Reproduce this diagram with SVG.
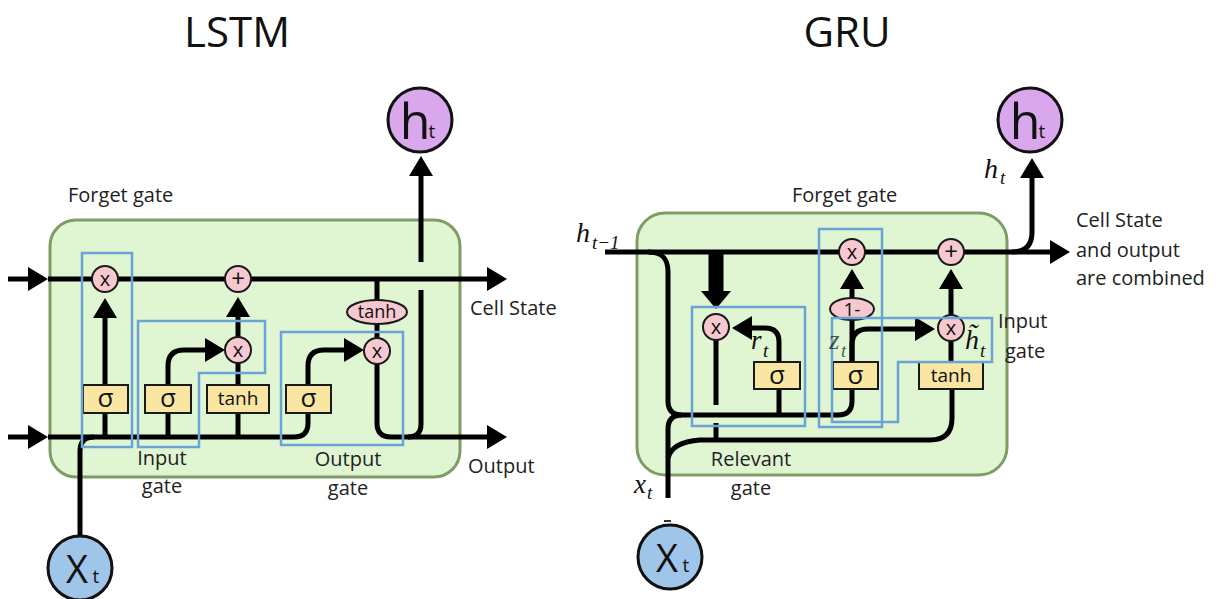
<svg xmlns="http://www.w3.org/2000/svg" width="1221" height="599" viewBox="0 0 1221 599">
<defs>
<style>
.cell{fill:#e0f5d2;stroke:#7f9c66;stroke-width:3}
.w{fill:none;stroke:#000;stroke-width:5;stroke-linecap:butt;stroke-linejoin:round}
.op{fill:#f7c8d0;stroke:#1a1a1a;stroke-width:2}
.gate{fill:#f9e6a2;stroke:#1a1a1a;stroke-width:2}
.frame{fill:none;stroke:#6aa4d6;stroke-width:2.5}
.lbl{font-family:"Open Sans","Noto Sans",sans-serif;font-size:20px;fill:#222}
.ttl{font-family:"Open Sans","Noto Sans",sans-serif;font-size:42px;fill:#111}
.opt{font-family:"Open Sans","Noto Sans",sans-serif;font-size:20px;fill:#111;text-anchor:middle}
.opp{font-family:"Open Sans","Noto Sans",sans-serif;font-size:24px;fill:#111;text-anchor:middle}
.gt{font-family:"Open Sans","Noto Sans",sans-serif;fill:#111;text-anchor:middle}
.math{font-family:"Liberation Serif","DejaVu Serif",serif;font-style:italic;fill:#111}
</style>
<marker id="ah" viewBox="0 0 20 24" refX="0" refY="12" markerWidth="20" markerHeight="24" markerUnits="userSpaceOnUse" orient="auto">
<path d="M0,0 L20,12 L0,24 z" fill="#000"/>
</marker>
</defs>
<rect width="1221" height="599" fill="#fff"/>

<!-- titles -->
<text class="ttl" x="237" y="47" text-anchor="middle">LSTM</text>
<text class="ttl" x="847" y="47" text-anchor="middle">GRU</text>

<!-- cells -->
<g id="lstm-cell"><rect class="cell" x="50" y="220" width="410" height="257" rx="26"/></g>
<g id="gru-cell"><rect class="cell" x="637" y="213" width="370" height="262" rx="28"/></g>

<!-- connectors -->
<g id="connectors">
 <!-- LSTM -->
 <path class="w" d="M8,279 H28" marker-end="url(#ah)"/>
 <path class="w" d="M48,279 H487" marker-end="url(#ah)"/>
 <path class="w" d="M8,437 H28" marker-end="url(#ah)"/>
 <path class="w" d="M48,437 H294 Q308,437 308,423 V413"/>
 <path class="w" d="M80,536 V451 Q80,437 94,437"/>
 <path class="w" d="M105,437 V413 M168,437 V413 M238,437 V413"/>
 <path class="w" d="M105,385 V318" marker-end="url(#ah)"/>
 <path class="w" d="M168,385 V366 Q168,350 184,350 H205" marker-end="url(#ah)"/>
 <path class="w" d="M238,385 V363"/>
 <path class="w" d="M238,337 V317" marker-end="url(#ah)"/>
 <path class="w" d="M308,385 V366 Q308,350 324,350 H344" marker-end="url(#ah)"/>
 <path class="w" d="M377,279 V300 M377,324 V338"/>
 <path class="w" d="M377,364 V423 Q377,437 391,437 H487" marker-end="url(#ah)"/>
 <path class="w" d="M408,437 Q421,437 421,424 V290"/>
 <path class="w" d="M421,262 V176" marker-end="url(#ah)"/>
 <!-- GRU -->
 <path class="w" d="M605,252 H1050" marker-end="url(#ah)"/>
 <path class="w" d="M1012,252 Q1032,252 1032,232 V178" marker-end="url(#ah)"/>
 <path class="w" d="M648,252 C662,252 668,258 668,272 V401 Q668,415 682,415 H838 Q852,415 852,401 V389"/>
 <path class="w" d="M668,498 V429 Q668,415 682,415"/>
 <path class="w" d="M668,458 Q672,442 700,440 H930 Q952,440 952,418 V389"/>
 <path class="w" d="M779,389 V415"/>
 <path class="w" d="M716,340 V405 M716,423 V440"/>
 <path d="M716,252 V292" fill="none" stroke="#000" stroke-width="15"/>
 <path d="M701,291 L731,291 L716,309 z" fill="#000"/>
 <path class="w" d="M779,362 V342 Q779,328 765,328 H752" marker-end="url(#ah)"/>
 <path class="w" d="M852,362 V320"/>
 <path class="w" d="M852,298 V289" marker-end="url(#ah)"/>
 <path class="w" d="M852,362 V345 Q852,329 868,329 H915" marker-end="url(#ah)"/>
 <path class="w" d="M951,362 V341"/>
 <path class="w" d="M951,315 V289" marker-end="url(#ah)"/>
 <path d="M664,521 H671" stroke="#333" stroke-width="2"/>
</g>

<!-- LSTM nodes -->
<g id="lstm-forget-mul"><circle class="op" cx="105" cy="279" r="13"/><text class="opt" x="105" y="286">x</text></g>
<g id="lstm-add"><circle class="op" cx="238" cy="279" r="13"/><text class="opp" x="238" y="287">+</text></g>
<g id="lstm-input-mul"><circle class="op" cx="238" cy="350" r="13"/><text class="opt" x="238" y="357">x</text></g>
<g id="lstm-out-mul"><circle class="op" cx="377" cy="351" r="13"/><text class="opt" x="377" y="358">x</text></g>
<g id="lstm-tanh-ell"><ellipse class="op" cx="377" cy="312" rx="30" ry="12"/><text class="gt" x="377" y="318" font-size="18">tanh</text></g>
<g id="lstm-sig1"><rect class="gate" x="83" y="385" width="45" height="28"/><text class="gt" x="105.5" y="407" font-size="26">σ</text></g>
<g id="lstm-sig2"><rect class="gate" x="145" y="385" width="46" height="28"/><text class="gt" x="168" y="407" font-size="26">σ</text></g>
<g id="lstm-tanh"><rect class="gate" x="207" y="385" width="62" height="28"/><text class="gt" x="238" y="405" font-size="19">tanh</text></g>
<g id="lstm-sig3"><rect class="gate" x="286" y="385" width="45" height="28"/><text class="gt" x="308.5" y="407" font-size="26">σ</text></g>
<g id="lstm-ht"><circle cx="420" cy="120" r="32" fill="#d8a7ec" stroke="#111" stroke-width="3"/><text class="gt" x="415" y="139" font-size="50">h</text><text class="gt" x="432" y="138" font-size="19">t</text></g>
<g id="lstm-xt"><circle cx="80" cy="568" r="32" fill="#9fc5e8" stroke="#111" stroke-width="3"/><text class="gt" x="77" y="583" font-size="38">X</text><text class="gt" x="96" y="583" font-size="19">t</text></g>

<!-- LSTM frames -->
<g id="lstm-frames">
 <rect class="frame" x="82" y="253" width="50" height="194"/>
 <path class="frame" d="M138,321 H265 V373 H199 V447 H138 Z"/>
 <rect class="frame" x="281" y="332" width="122" height="113"/>
</g>

<!-- LSTM labels -->
<g id="lstm-labels">
 <text class="lbl" x="68" y="202">Forget gate</text>
 <text class="lbl" x="470" y="315">Cell State</text>
 <text class="lbl" x="162" y="465" text-anchor="middle">Input</text>
 <text class="lbl" x="162" y="493" text-anchor="middle">gate</text>
 <text class="lbl" x="348" y="466" text-anchor="middle">Output</text>
 <text class="lbl" x="348" y="495" text-anchor="middle">gate</text>
 <text class="lbl" x="468" y="473">Output</text>
</g>

<!-- GRU nodes -->
<g id="gru-reset-mul"><circle class="op" cx="716" cy="327" r="13"/><text class="opt" x="716" y="334">x</text></g>
<g id="gru-z-mul"><circle class="op" cx="852" cy="252" r="13"/><text class="opt" x="852" y="259">x</text></g>
<g id="gru-add"><circle class="op" cx="951" cy="252" r="13"/><text class="opp" x="951" y="260">+</text></g>
<g id="gru-h-mul"><circle class="op" cx="951" cy="328" r="13"/><text class="opt" x="951" y="335">x</text></g>
<g id="gru-one-minus"><ellipse class="op" cx="852" cy="309" rx="22" ry="11"/><text class="gt" x="852" y="316" font-size="19">1-</text></g>
<g id="gru-sig-r"><rect class="gate" x="754" y="362" width="46" height="27"/><text class="gt" x="777" y="384" font-size="26">σ</text></g>
<g id="gru-sig-z"><rect class="gate" x="833" y="362" width="45" height="27"/><text class="gt" x="855.5" y="384" font-size="26">σ</text></g>
<g id="gru-tanh"><rect class="gate" x="919" y="362" width="64" height="27"/><text class="gt" x="951" y="382" font-size="19">tanh</text></g>
<g id="gru-ht"><circle cx="1030" cy="120" r="32" fill="#d8a7ec" stroke="#111" stroke-width="3"/><text class="gt" x="1025" y="139" font-size="50">h</text><text class="gt" x="1042" y="138" font-size="19">t</text></g>
<g id="gru-xt"><circle cx="670" cy="557" r="32" fill="#9fc5e8" stroke="#111" stroke-width="3"/><text class="gt" x="667" y="572" font-size="38">X</text><text class="gt" x="686" y="572" font-size="19">t</text></g>

<!-- GRU frames -->
<g id="gru-frames">
 <rect class="frame" x="692" y="307" width="113" height="119"/>
 <rect class="frame" x="819" y="229" width="63" height="198"/>
 <path class="frame" d="M832,318 H992 V362 H898 V422 H832 Z"/>
</g>

<!-- GRU labels -->
<g id="gru-labels">
 <text class="lbl" x="792" y="202">Forget gate</text>
 <text class="lbl" x="1076" y="227">Cell State</text>
 <text class="lbl" x="1076" y="257">and output</text>
 <text class="lbl" x="1076" y="285">are combined</text>
 <text class="lbl" x="998" y="328">Input</text>
 <text class="lbl" x="1005" y="358">gate</text>
 <text class="lbl" x="751" y="466" text-anchor="middle">Relevant</text>
 <text class="lbl" x="751" y="495" text-anchor="middle">gate</text>
 <text class="math" x="576" y="242" font-size="28">h</text><text class="math" x="592" y="249" font-size="19">t−1</text>
 <text class="math" x="984" y="178" font-size="28">h</text><text class="math" x="1000" y="184" font-size="19">t</text>
 <text class="math" x="751" y="349" font-size="27">r</text><text class="math" x="763" y="357" font-size="19">t</text>
 <text class="math" x="829" y="349" font-size="27" fill-opacity="0.7">z</text><text class="math" x="841" y="357" font-size="19" fill-opacity="0.7">t</text>
 <text class="math" x="965" y="349" font-size="28">h&#x303;</text><text class="math" x="980" y="357" font-size="19">t</text>
 <text class="math" x="634" y="493" font-size="27">x</text><text class="math" x="647" y="499" font-size="19">t</text>
</g>
</svg>
